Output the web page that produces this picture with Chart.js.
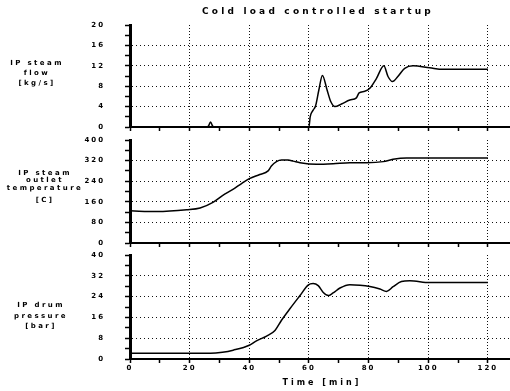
<!DOCTYPE html>
<html>
<head>
<meta charset="utf-8">
<script src="https://cdn.jsdelivr.net/npm/chart.js@4.4.0/dist/chart.umd.min.js"></script>
<style>
  html, body { margin: 0; padding: 0; background: #fff; }
  #wrap { position: relative; width: 510px; height: 391px; }
  #wrap canvas { position: absolute; left: 0; top: 0; }
</style>
</head>
<body>
<div id="wrap">
  <canvas id="flowChart" width="510" height="391"></canvas>
  <canvas id="tempChart" width="510" height="391"></canvas>
  <canvas id="pressChart" width="510" height="391"></canvas>
</div>
<script>
const chartTitle = 'Cold load controlled startup';
const timeTitle = 'Time [min]';
const timeTicks = [0, 20, 40, 60, 80, 100, 120];

const flowLabel = ['IP steam', 'flow', '[kg/s]'];
const flowTicks = [0, 4, 8, 12, 16, 20];
const flowTime = [0, 25, 26.2, 27, 27.8, 29, 60, 60.4, 61.4, 62.2, 63.3, 64.5, 66.1, 67.3, 68.7, 70.9, 73.7, 75.9, 76.8, 78.7, 80.4, 82.6, 85.1, 86.5, 88, 89.8, 92.1, 94.9, 100.5, 105, 120];
const flowValues = [0, 0, 0.1, 1.0, 0.1, 0, 0, 2.0, 3.3, 4.1, 7.2, 10.1, 7.2, 5.0, 4.0, 4.5, 5.3, 5.7, 6.7, 7.0, 7.6, 9.5, 12.0, 9.9, 8.9, 9.9, 11.5, 12.0, 11.6, 11.3, 11.3];

const tempLabel = ['IP steam', 'outlet', 'temperature', '[C]'];
const tempTicks = [0, 80, 160, 240, 320, 400];
const tempTime = [0, 9, 19, 23.5, 27.8, 31, 34.5, 37.5, 40, 43.5, 46.3, 47.4, 49.1, 50.8, 53, 54.7, 57, 62.5, 68.1, 73.7, 79.3, 84.9, 88.2, 92.7, 120];
const tempValues = [125, 122, 129, 136, 158, 184, 208, 232, 250, 266, 280, 299, 316, 322, 322, 318, 312, 306, 308, 312, 312, 316, 325, 330, 330];

const pressLabel = ['IP drum', 'pressure', '[bar]'];
const pressTicks = [0, 8, 16, 24, 32, 40];
const pressTime = [0, 27, 31, 34.6, 40, 42.4, 45.8, 48.6, 50.8, 53.6, 57, 59.7, 61.4, 63.1, 64.8, 66.5, 68.1, 70.4, 73.7, 77.1, 80.4, 83.8, 86, 88.2, 91, 93.8, 100.5, 120];
const pressValues = [2.2, 2.2, 2.6, 3.4, 5.3, 7.0, 8.8, 11.0, 14.9, 19.3, 24.4, 28.4, 29.0, 28.2, 25.6, 24.4, 25.4, 27.3, 28.6, 28.4, 27.9, 26.9, 26.0, 27.8, 29.8, 30.1, 29.4, 29.4];

Chart.defaults.font.family = '"DejaVu Sans", Verdana, sans-serif';
Chart.defaults.font.weight = 'bold';
Chart.defaults.font.size = 7;
Chart.defaults.color = '#000';

// spaced-out lettering like the old plotter output
const panelText = {
    id: 'panelText',
    beforeDraw(chart) {
        chart.ctx.letterSpacing = '2px';
    },
    afterDraw(chart, args, opts) {
        const ctx = chart.ctx;
        ctx.letterSpacing = '0px';
        (opts.items || []).forEach(item => {
            ctx.save();
            ctx.font = item.font;
            ctx.letterSpacing = item.spacing;
            ctx.fillStyle = '#000';
            ctx.textAlign = 'center';
            ctx.textBaseline = 'middle';
            item.lines.forEach((line, i) => ctx.fillText(line, item.x, item.ys[i]));
            ctx.restore();
        });
    }
};

const CLEAR = 'rgba(0,0,0,0)';

function buildPanel(id, time, values, yMax, yStep, yTicks, top, bottom, showTime, items) {
    const ctx = document.getElementById(id).getContext('2d');
    return new Chart(ctx, {
        type: 'line',
        data: {
            datasets: [{
                data: time.map((t, i) => ({ x: t, y: values[i] })),
                borderColor: '#000',
                borderWidth: 1.5,
                pointRadius: 0,
                fill: false,
                cubicInterpolationMode: 'monotone'
            }]
        },
        options: {
            responsive: false,
            animation: false,
            devicePixelRatio: 1,
            events: [],
            layout: { padding: { top: top, left: 0, right: 0, bottom: 0 } },
            plugins: {
                legend: { display: false },
                tooltip: { enabled: false },
                panelText: { items: items }
            },
            scales: {
                x: {
                    type: 'linear',
                    min: 0,
                    max: 127.4,
                    afterFit: scale => { scale.height = 391 - bottom; },
                    ticks: {
                        stepSize: 10,
                        includeBounds: false,
                        autoSkip: false,
                        maxRotation: 0,
                        padding: 1,
                        callback: v => (showTime && timeTicks.includes(v)) ? String(v) : ''
                    },
                    grid: {
                        color: c => (c.tick && c.tick.value > 0 && c.tick.value % 20 === 0) ? '#111' : CLEAR,
                        lineWidth: 1,
                        tickColor: '#000',
                        tickWidth: 1.5,
                        tickLength: 4,
                        tickBorderDash: []
                    },
                    border: { display: true, color: '#000', width: 2, dash: [1, 2] }
                },
                y: {
                    min: 0,
                    max: yMax,
                    afterFit: scale => { scale.width = 130; },
                    ticks: {
                        stepSize: yStep,
                        autoSkip: false,
                        padding: 20,
                        callback: v => yTicks.includes(v) ? String(v) : ''
                    },
                    grid: {
                        color: c => (c.tick && yTicks.includes(c.tick.value) && c.tick.value !== 0 && c.tick.value !== yMax) ? '#111' : CLEAR,
                        lineWidth: 1,
                        tickColor: '#000',
                        tickWidth: 1.5,
                        tickLength: 5,
                        tickBorderDash: []
                    },
                    border: { display: true, color: '#000', width: 3, dash: [1, 3] }
                }
            }
        },
        plugins: [panelText]
    });
}

const labelFont = 'bold 7px "DejaVu Sans", Verdana, sans-serif';

buildPanel('flowChart', flowTime, flowValues, 20, 2, flowTicks, 25, 127, false, [
    { lines: [chartTitle], x: 318, ys: [12], font: 'bold 9px "DejaVu Sans", Verdana, sans-serif', spacing: '3.2px' },
    { lines: flowLabel, x: 37, ys: [63, 73, 83], font: labelFont, spacing: '2.4px' }
]);

buildPanel('tempChart', tempTime, tempValues, 400, 40, tempTicks, 140, 243, false, [
    { lines: tempLabel, x: 45, ys: [173, 180.5, 188, 200.5], font: labelFont, spacing: '2.4px' }
]);

buildPanel('pressChart', pressTime, pressValues, 40, 4, pressTicks, 255, 359, true, [
    { lines: pressLabel, x: 41, ys: [305, 316, 326], font: labelFont, spacing: '2.4px' },
    { lines: [timeTitle], x: 322, ys: [383], font: 'bold 8px "DejaVu Sans", Verdana, sans-serif', spacing: '3px' }
]);
</script>
</body>
</html>
